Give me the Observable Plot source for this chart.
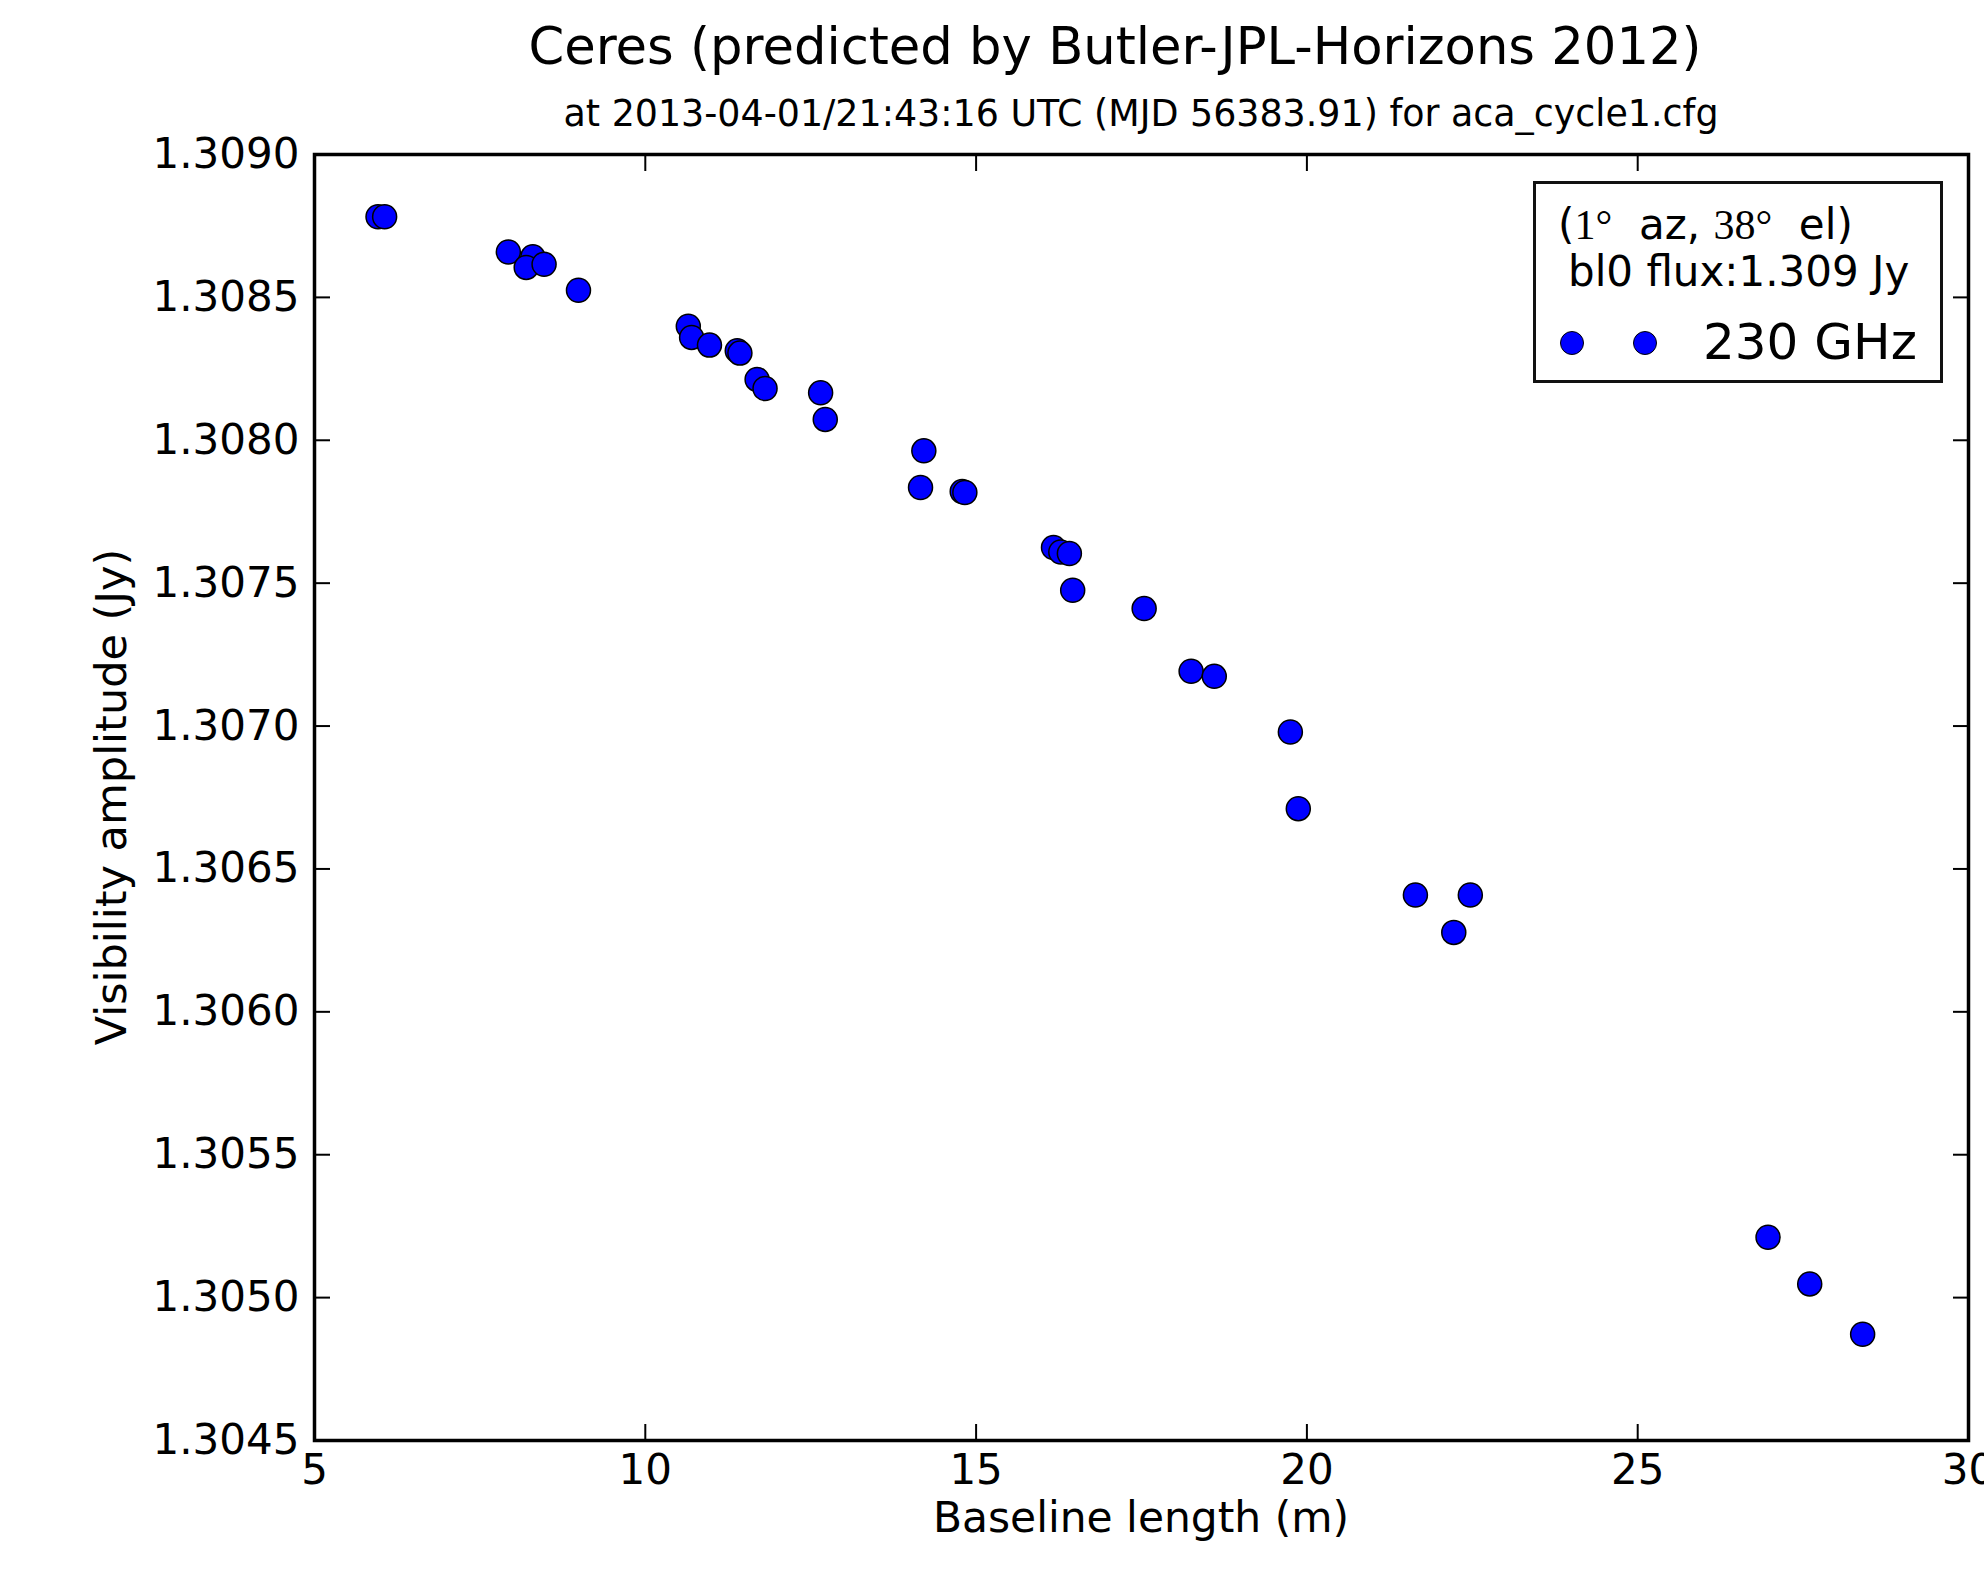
<!DOCTYPE html>
<html><head><meta charset="utf-8">
<script src="https://cdn.jsdelivr.net/npm/d3@7"></script>
<script src="https://cdn.jsdelivr.net/npm/@observablehq/plot@0.6"></script>
<style>
body{margin:0;background:#fff;}
#wrap{position:relative;width:1984px;height:1581px;font-family:"DejaVu Sans",sans-serif;color:#000;overflow:hidden;}
#chart{position:absolute;left:0;top:0;}
.abs{position:absolute;white-space:nowrap;line-height:1;}
.serif{font-family:"Liberation Serif","DejaVu Serif",serif;}
.ldot{position:absolute;width:22px;height:22px;border-radius:50%;background:#0000ff;border:1.5px solid #000;transform:translate(-50%,-50%);}
</style></head><body>
<div id="wrap"><div id="chart"></div></div>
<script>
// ---- data ----
const baseline = [5.96, 6.06, 7.93, 8.30, 8.20, 8.47, 8.99, 10.65, 10.70, 10.97, 11.39, 11.43, 11.69, 11.81,
  12.65, 12.72, 14.21, 14.16, 14.79, 14.83, 16.17, 16.28, 16.41, 16.46, 17.54, 18.25, 18.60, 19.75, 19.87,
  21.64, 22.47, 22.22, 26.97, 27.60, 28.40];
const amplitude = [1.308782, 1.308782, 1.308659, 1.308642, 1.308605, 1.308616, 1.308525, 1.308399, 1.308360, 1.308333, 1.308313, 1.308305, 1.308213, 1.308181,
  1.308166, 1.308073, 1.307963, 1.307835, 1.307821, 1.307817, 1.307625, 1.307609, 1.307604, 1.307475, 1.307411, 1.307192, 1.307174, 1.306979, 1.306711,
  1.306409, 1.306409, 1.306278, 1.305211, 1.305048, 1.304872];
const xTicks = [5, 10, 15, 20, 25, 30];
const yTicks = [1.3045, 1.3050, 1.3055, 1.3060, 1.3065, 1.3070, 1.3075, 1.3080, 1.3085, 1.3090];
const titleText = "Ceres (predicted by Butler-JPL-Horizons 2012)";
const subtitleText = "at 2013-04-01/21:43:16 UTC (MJD 56383.91) for aca_cycle1.cfg";
const xLabel = "Baseline length (m)";
const yLabel = "Visibility amplitude (Jy)";
const legendAz = "1", legendEl = "38";
const legendFlux = "bl0 flux:1.309 Jy";
const seriesName = "230 GHz";

const points = baseline.map((b, i) => ({b, a: amplitude[i]}));
const fmt = d3.format(".4f");

const chart = Plot.plot({
  width: 1984, height: 1581,
  marginLeft: 314, marginRight: 16, marginTop: 154, marginBottom: 141,
  style: {fontFamily: "DejaVu Sans", fontSize: "42px", background: "#fff", color: "#000"},
  x: {domain: [5, 30], ticks: xTicks},
  y: {domain: [1.3045, 1.3090], ticks: yTicks, tickFormat: fmt},
  marks: [
    Plot.axisX({anchor: "bottom", ticks: xTicks, tickSize: -16, tickPadding: 30, strokeWidth: 2, label: null}),
    Plot.axisX({anchor: "top", ticks: xTicks, tickSize: -16, tickFormat: () => "", strokeWidth: 2, label: null}),
    Plot.axisY({anchor: "left", ticks: yTicks, tickSize: -16, tickPadding: 31, tickFormat: fmt, strokeWidth: 2, label: null}),
    Plot.axisY({anchor: "right", ticks: yTicks, tickSize: -16, tickFormat: () => "", strokeWidth: 2, label: null}),
    Plot.dot(points, {x: "b", y: "a", r: 12, fill: "#0000ff", stroke: "#000", strokeWidth: 1.5, fillOpacity: 1}),
    Plot.frame({stroke: "#000", strokeWidth: 3.5})
  ]
});
const wrap = document.getElementById("wrap");
document.getElementById("chart").appendChild(chart);

function addText(txt, left, top, size, extra) {
  const d = document.createElement("div");
  d.className = "abs";
  d.textContent = txt;
  d.style.left = left + "px"; d.style.top = top + "px"; d.style.fontSize = size + "px";
  d.style.transform = extra || "translate(-50%,-50%)";
  wrap.appendChild(d);
  return d;
}
addText(titleText, 1115, 47, 51.2);
addText(subtitleText, 1141, 114, 36.4);
addText(xLabel, 1141, 1518, 42.4);
addText(yLabel, 111, 797, 43);

wrap.lastChild.style.transform = "translate(-50%,-50%) rotate(-90deg)";

// legend
const box = document.createElement("div");
box.style.cssText = "position:absolute;left:1533px;top:181px;width:410px;height:202px;box-sizing:border-box;border:3px solid #111;background:#fff;";
wrap.appendChild(box);
const l1 = addText("", 1558, 225, 42, "translateY(-50%)");
l1.innerHTML = `(<span class="serif">${legendAz}°</span>&nbsp; az, <span class="serif">${legendEl}°</span>&nbsp; el)`;
addText(legendFlux, 1568, 272, 42, "translateY(-50%)");
for (const cx of [1572, 1645]) {
  const dd = document.createElement("div");
  dd.className = "ldot"; dd.style.left = cx + "px"; dd.style.top = "343px";
  wrap.appendChild(dd);
}
addText(seriesName, 1703, 342, 50, "translateY(-50%)");
</script>
</body></html>
